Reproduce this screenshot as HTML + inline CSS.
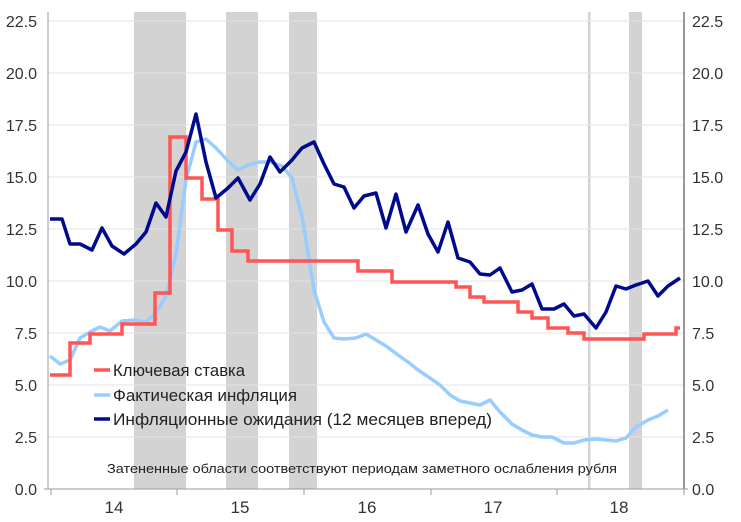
<!DOCTYPE html>
<html><head><meta charset="utf-8"><style>body{margin:0;background:#fff}svg{display:block;font-family:"Liberation Sans",sans-serif}</style></head><body>
<svg width="741" height="522" xmlns="http://www.w3.org/2000/svg">
<g fill="#d3d3d3"><rect x="134" y="12" width="52" height="477"/><rect x="226" y="12" width="32" height="477"/><rect x="289" y="12" width="28" height="477"/><rect x="629" y="12" width="13" height="477"/><rect x="588" y="12" width="2.5" height="477"/></g>
<g stroke="#e3e3e3" stroke-width="1"><line x1="48" x2="684" y1="21" y2="21"/><line x1="48" x2="684" y1="73" y2="73"/><line x1="48" x2="684" y1="125" y2="125"/><line x1="48" x2="684" y1="177" y2="177"/><line x1="48" x2="684" y1="229" y2="229"/><line x1="48" x2="684" y1="281" y2="281"/><line x1="48" x2="684" y1="333" y2="333"/><line x1="48" x2="684" y1="385" y2="385"/><line x1="48" x2="684" y1="437" y2="437"/></g>
<line x1="48" x2="48" y1="12" y2="489" stroke="#999"/>
<line x1="684" x2="684" y1="12" y2="489" stroke="#333"/>
<line x1="44" x2="688" y1="489" y2="489" stroke="#999"/>
<g stroke="#999"><line x1="51" x2="51" y1="489" y2="495"/><line x1="177" x2="177" y1="489" y2="495"/><line x1="304" x2="304" y1="489" y2="495"/><line x1="431" x2="431" y1="489" y2="495"/><line x1="557" x2="557" y1="489" y2="495"/><line x1="684" x2="684" y1="489" y2="495"/></g>
<g font-size="16" fill="#333" text-anchor="end"><text x="37" y="27">22.5</text><text x="37" y="79">20.0</text><text x="37" y="131">17.5</text><text x="37" y="183">15.0</text><text x="37" y="235">12.5</text><text x="37" y="287">10.0</text><text x="37" y="339">7.5</text><text x="37" y="391">5.0</text><text x="37" y="443">2.5</text><text x="37" y="495">0.0</text></g>
<g font-size="16" fill="#333"><text x="692" y="27">22.5</text><text x="692" y="79">20.0</text><text x="692" y="131">17.5</text><text x="692" y="183">15.0</text><text x="692" y="235">12.5</text><text x="692" y="287">10.0</text><text x="692" y="339">7.5</text><text x="692" y="391">5.0</text><text x="692" y="443">2.5</text><text x="692" y="495">0.0</text></g>
<g font-size="17" fill="#333" text-anchor="middle"><text x="114" y="513">14</text><text x="240" y="513">15</text><text x="367" y="513">16</text><text x="493" y="513">17</text><text x="619" y="513">18</text></g>
<polyline fill="none" stroke="#99ccff" stroke-width="3.5" stroke-linejoin="round" points="50,356 60,364 70,360 80,338 90,332 100,327 110,331 122,321 134,320 146,322 156,313 166,296 176,254 186,180 196,142 206,139 216,148 228,161 238,170 248,165 260,162 270,162 282,166 292,178 302,216 314,290 324,322 334,338 344,339 356,338 366,334 376,340 386,346 398,355 408,362 418,370 430,378 440,385 450,395 460,401 470,403 480,405 490,400 500,412 512,424 522,430 532,435 542,437 552,437 564,443 574,443 584,440 596,439 606,440 616,441 626,438 636,427 648,420 658,416 668,410"/>
<polyline fill="none" stroke="#ff5555" stroke-width="3.5" points="50,375 70,375 70,343 90,343 90,334 122,334 122,324 155,324 155,293 170,293 170,137 186,137 186,178 202,178 202,199 218,199 218,230 232,230 232,251 248,251 248,261 358,261 358,271 392,271 392,282 456,282 456,287 470,287 470,297 484,297 484,302 518,302 518,312 532,312 532,318 548,318 548,328 568,328 568,333 584,333 584,339 644,339 644,334 676,334 676,328 680,328"/>
<polyline fill="none" stroke="#000a8c" stroke-width="3.5" stroke-linejoin="round" points="50,219 62,219 70,244 80,244 92,250 102,228 112,246 124,254 136,244 146,232 156,203 166,217 176,171 186,152 196,114 206,162 216,198 228,188 238,178 250,200 260,184 270,157 280,172 292,160 302,148 314,142 324,164 334,184 344,187 354,208 364,196 376,193 386,228 396,194 406,232 418,205 428,234 438,252 448,222 458,258 470,262 480,274 490,275 500,268 512,292 522,290 532,284 542,309 554,309 564,304 574,316 584,314 596,328 606,312 616,286 626,289 636,285 648,281 658,296 668,286 680,278"/>
<g font-size="17" fill="#222"><line x1="94" x2="110" y1="370" y2="370" stroke="#ff5555" stroke-width="3.5"/><text x="113" y="376" textLength="132" lengthAdjust="spacingAndGlyphs">Ключевая ставка</text>
<line x1="94" x2="110" y1="395" y2="395" stroke="#99ccff" stroke-width="3.5"/><text x="113" y="401" textLength="184" lengthAdjust="spacingAndGlyphs">Фактическая инфляция</text>
<line x1="94" x2="110" y1="419" y2="419" stroke="#000a8c" stroke-width="3.5"/><text x="113" y="425" textLength="379" lengthAdjust="spacingAndGlyphs">Инфляционные ожидания (12 месяцев вперед)</text></g>
<text x="362" y="473" font-size="13" fill="#222" text-anchor="middle" textLength="510" lengthAdjust="spacingAndGlyphs">Затененные области соответствуют периодам заметного ослабления рубля</text>
</svg>
</body></html>
